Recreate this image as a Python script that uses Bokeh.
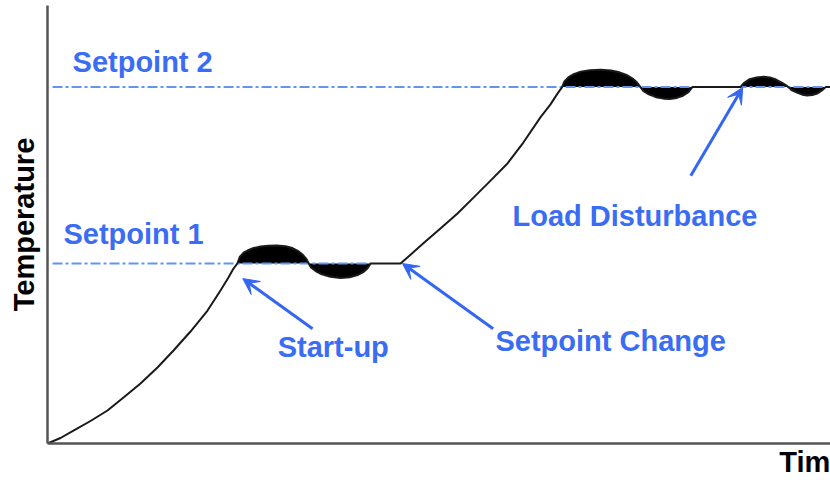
import numpy as np
from bokeh.plotting import figure
from bokeh.models import Range1d, Arrow, VeeHead, ColumnDataSource, FixedTicker, Title
from bokeh.core.properties import value
from bokeh.embed import file_html
from bokeh.resources import INLINE

# ---- data (arbitrary units) ----
time = [0, 1.68, 3.35, 5.55, 7.74, 9.81, 12.0, 14.19, 16.26, 18.45, 20.65, 22.32,
        23.35, 24.0, 24.5,
        24.8, 25.3, 25.8, 26.6, 27.5, 28.5, 29.6, 30.7, 31.6, 32.3, 32.9, 33.4, 33.7,
        34.0, 34.6, 35.4, 36.5, 37.8, 39.0, 40.0, 40.8, 41.3, 41.7,
        45.55, 46.84, 48.5, 50.7, 52.9, 54.97, 57.2, 59.35, 61.4, 63.6, 64.9, 65.8,
        66.4, 66.7, 67.2, 67.9, 68.8, 70.0, 71.4, 72.7, 73.8, 74.8, 75.6, 76.1, 76.5,
        76.9, 77.6, 78.5, 79.5, 80.3, 81.2, 82.0, 82.7, 83.2,
        89.4, 89.9, 90.6, 91.5, 92.4, 93.2, 94.0, 94.8, 95.3, 95.6,
        96.0, 96.7, 97.4, 98.0, 98.7, 99.4, 100.0, 100.4, 101.1]
temperature = [0, 1.53, 3.6, 6.25, 9.17, 12.78, 16.67, 21.11, 25.83, 31.11, 36.94, 42.5,
               46.1, 48.6, 50,
               51.8, 53.0, 53.6, 54.3, 54.7, 54.95, 55.0, 54.8, 54.3, 53.5, 52.5, 51.3, 50,
               48.9, 47.9, 47.0, 46.3, 46.0, 46.2, 46.8, 47.7, 48.7, 50,
               50, 52.4, 55.6, 59.7, 63.9, 68.3, 73.1, 77.8, 83.6, 90.6, 94.2, 97.2,
               99, 100.6, 101.7, 102.6, 103.3, 103.7, 103.8, 103.6, 103.1, 102.3, 101.2, 100.2, 99,
               97.9, 97.0, 96.2, 95.8, 95.7, 96.0, 96.6, 97.6, 99,
               99, 100.2, 101.2, 101.7, 101.9, 101.7, 101.1, 100.2, 99.5, 99,
               98.2, 97.5, 96.9, 96.7, 96.8, 97.3, 98.2, 99, 99]

setpoints = [50, 99]
setpoint_line_start = [0.65, 0.65]
setpoint_line_end = [41.7, 101.1]
settle_start = [24.5, 66.4]
settle_end = [41.7, 101.1]

label_texts = ["Setpoint 2", "Setpoint 1", "Start-up", "Setpoint Change", "Load Disturbance"]
label_x = [3.23, 2.06, 29.7, 57.8, 60.0]
label_y = [106.1, 58.1, 26.9, 28.6, 63.3]

arrow_tail_x = [34.2, 57.5, 83.0]
arrow_tail_y = [31.9, 31.9, 74.4]
arrow_tip_x = [25.2, 45.8, 89.7]
arrow_tip_y = [45.8, 50.0, 98.9]

x_title = "Time"
y_title = "Temperature"

# ---- figure ----
FONT = "Liberation Sans"
BLUE_TEXT = "#3b6cf4"
BLUE_ARROW = "#3366f2"
BLUE_DASH = "#6494f0"

p = figure(width=830, height=480, output_backend="svg", toolbar_location=None,
           x_range=Range1d(0, 101.03), y_range=Range1d(0, 121.67),
           min_border_left=47, min_border_bottom=37, min_border_top=5, min_border_right=0)
p.outline_line_color = None
p.grid.visible = False
p.background_fill_color = "white"
p.border_fill_color = "white"

for ax in (p.xaxis, p.yaxis):
    ax.ticker = FixedTicker(ticks=[])
    ax.major_tick_line_color = None
    ax.minor_tick_line_color = None
    ax.major_tick_out = 0
    ax.major_tick_in = 0
    ax.major_label_standoff = 0
    ax.major_label_text_font_size = "0px"
    ax.axis_line_color = "#555555"
    ax.axis_line_width = 2.5
    ax.axis_label_text_font = FONT
    ax.axis_label_text_font_style = "bold"
    ax.axis_label_text_font_size = "29px"
    ax.axis_label_text_color = "black"

p.yaxis.axis_label = y_title
p.yaxis.axis_label_standoff = 8

# x-axis title at the right end, below the axis
p.add_layout(Title(text=x_title, align="right", offset=-16, standoff=0,
                   text_font=FONT, text_font_style="bold", text_font_size="29px",
                   text_color="black"), "below")

t = np.array(time)
T = np.array(temperature)

# filled deviations around setpoints
for sp, a, b in zip(setpoints, settle_start, settle_end):
    m = (t >= a) & (t <= b)
    p.varea(x=t[m], y1=np.full(m.sum(), sp), y2=T[m], fill_color="black")

# setpoint lines
for sp, a, b in zip(setpoints, setpoint_line_start, setpoint_line_end):
    p.line(x=[a, b], y=[sp, sp], line_color=BLUE_DASH, line_width=2, line_dash="10 3 3 3")

# process curve
p.line(x=time, y=temperature, line_color="#1a1a1a", line_width=2, line_join="round")

# arrows
for xs, ys, xe, ye in zip(arrow_tail_x, arrow_tail_y, arrow_tip_x, arrow_tip_y):
    p.add_layout(Arrow(x_start=xs, y_start=ys, x_end=xe, y_end=ye,
                       line_color=BLUE_ARROW, line_width=3,
                       end=VeeHead(size=16, fill_color=BLUE_ARROW, line_color=BLUE_ARROW)))

# labels
src = ColumnDataSource(dict(x=label_x, y=label_y, text=label_texts))
p.text(x="x", y="y", text="text", source=src, text_font=value(FONT),
       text_font_style="bold", text_font_size="29px", text_color=BLUE_TEXT,
       text_align="left", text_baseline="alphabetic")

open("out.html", "w").write(file_html(p, INLINE))
